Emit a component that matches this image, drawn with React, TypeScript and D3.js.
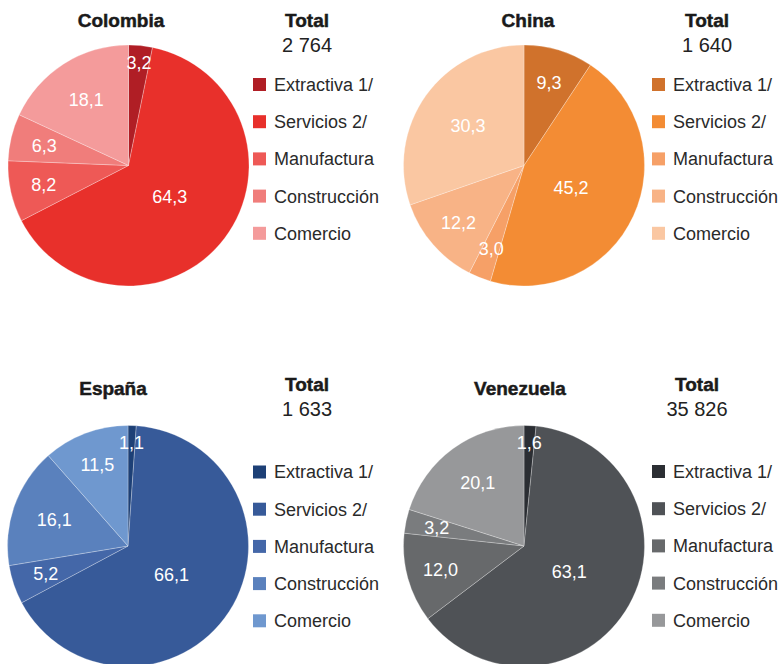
import React from "react";
import * as d3 from "d3";

const categories = ["Extractiva 1/", "Servicios 2/", "Manufactura", "Construcción", "Comercio"];

const countries = ["Colombia", "China", "España", "Venezuela"];
const totals = ["2 764", "1 640", "1 633", "35 826"];

const colombiaValues = [3.2, 64.3, 8.2, 6.3, 18.1];
const chinaValues = [9.3, 45.2, 3.0, 12.2, 30.3];
const espanaValues = [1.1, 66.1, 5.2, 16.1, 11.5];
const venezuelaValues = [1.6, 63.1, 12.0, 3.2, 20.1];

const colombiaColors = ["#B01E25", "#E8302B", "#EE5956", "#F07D7B", "#F49B9B"];
const chinaColors = ["#D0722C", "#F38C34", "#F6A067", "#F8B386", "#FAC7A2"];
const espanaColors = ["#1D4076", "#375A99", "#4467A8", "#5A81BD", "#6F98CF"];
const venezuelaColors = ["#2B2E33", "#4F5256", "#67696B", "#7A7C7E", "#97989A"];

const seriesValues = [colombiaValues, chinaValues, espanaValues, venezuelaValues];
const seriesColors = [colombiaColors, chinaColors, espanaColors, venezuelaColors];

// layout per panel
const panels = [
  { cx: 128.5, cy: 165.5, titleX: 121, titleY: 27, totalX: 307, totalY: 27, legendX: 253, legendY: 84.5 },
  { cx: 524, cy: 165.5, titleX: 528, titleY: 27, totalX: 707, totalY: 27, legendX: 652, legendY: 84.5 },
  { cx: 128, cy: 546, titleX: 113, titleY: 395, totalX: 307, totalY: 391, legendX: 253, legendY: 472 },
  { cx: 524, cy: 546, titleX: 520, titleY: 395, totalX: 697, totalY: 391, legendX: 652, legendY: 471.5 },
];

const R = 120.5;
const FONT = "'Liberation Sans', Arial, sans-serif";

function labelFactor(v: number, mid: number) {
  const nearTop = mid < 0.35 || mid > Math.PI * 2 - 0.35;
  if (v < 5) return nearTop ? 0.86 : 0.74;
  if (v > 40) return 0.43;
  if (v > 25) return 0.57;
  if (v > 15) return 0.65;
  return 0.72;
}

function fmt(v: number) {
  return v.toFixed(1).replace(".", ",");
}

function Panel({ idx }: { idx: number }) {
  const p = panels[idx];
  const values = seriesValues[idx];
  const colors = seriesColors[idx];
  const pie = d3.pie<number>().sort(null).value((d) => d)(values);
  const arc = d3.arc<d3.PieArcDatum<number>>().innerRadius(0).outerRadius(R);
  const color = d3.scaleOrdinal<string, string>().domain(categories).range(colors);
  const legendY = d3.scalePoint<string>().domain(categories).range([p.legendY, p.legendY + 37.2 * 4]);

  return (
    <g>
      <text x={p.titleX} y={p.titleY} textAnchor="middle" fontFamily={FONT} fontWeight="bold" fontSize={19} fill="#1a1a1a" stroke="#1a1a1a" strokeWidth={0.5}>
        {countries[idx]}
      </text>
      <text x={p.totalX} y={p.totalY} textAnchor="middle" fontFamily={FONT} fontWeight="bold" fontSize={19} fill="#1a1a1a" stroke="#1a1a1a" strokeWidth={0.5}>
        Total
      </text>
      <text x={p.totalX} y={p.totalY + 24.5} textAnchor="middle" fontFamily={FONT} fontSize={20} fill="#222">
        {totals[idx]}
      </text>
      <g transform={`translate(${p.cx},${p.cy})`}>
        {pie.map((d, i) => (
          <path key={i} d={arc(d) || ""} fill={color(categories[i])} stroke="#ffffff" strokeOpacity={0.45} strokeWidth={0.6} />
        ))}
        {pie.map((d, i) => {
          const mid = (d.startAngle + d.endAngle) / 2;
          const f = labelFactor(d.data, mid);
          const x = Math.sin(mid) * R * f;
          const y = -Math.cos(mid) * R * f;
          return (
            <text key={i} x={x} y={y} dy="0.36em" textAnchor="middle" fontFamily={FONT} fontSize={18} fill="#ffffff">
              {fmt(d.data)}
            </text>
          );
        })}
      </g>
      {categories.map((c) => (
        <g key={c} transform={`translate(${p.legendX},${legendY(c)})`}>
          <rect x={0} y={-6.5} width={13} height={13} fill={color(c)} />
          <text x={21} y={0} dy="0.36em" fontFamily={FONT} fontSize={18} fill="#2a2a2a">
            {c}
          </text>
        </g>
      ))}
    </g>
  );
}

export default function App() {
  return (
    <svg
      width={782}
      height={664}
      viewBox="0 0 782 664"
      style={{ position: "absolute", left: 0, top: 0, display: "block", background: "#fff" }}
    >
      {countries.map((_, i) => (
        <Panel key={i} idx={i} />
      ))}
    </svg>
  );
}
